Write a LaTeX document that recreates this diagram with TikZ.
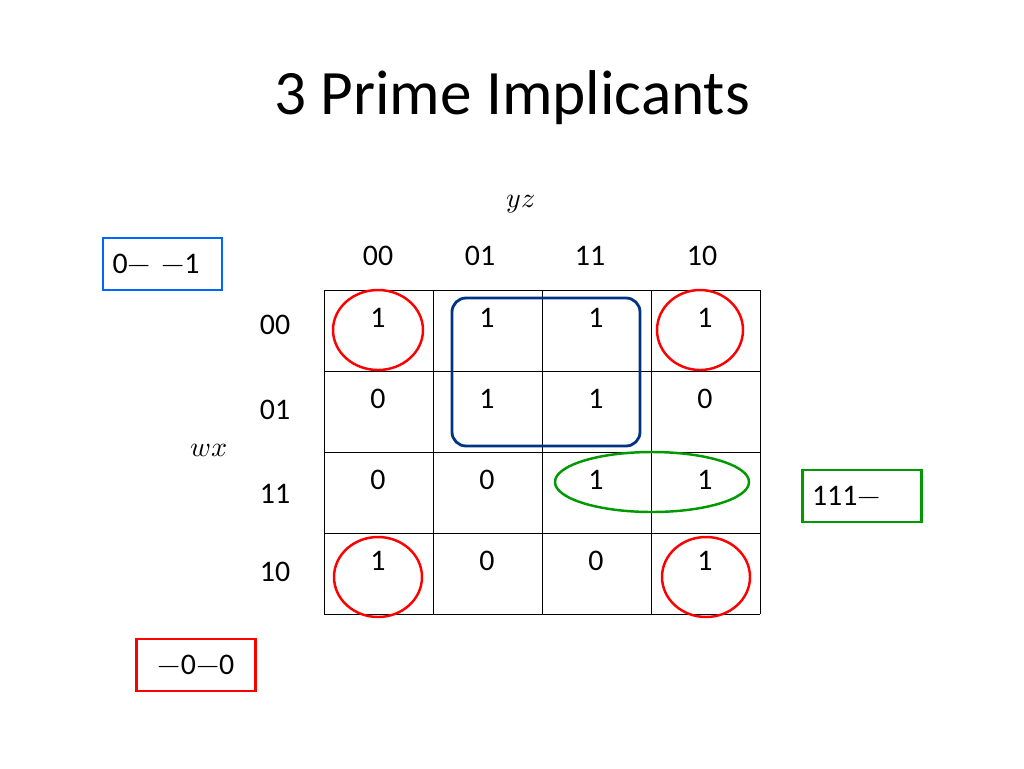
\documentclass[tikz,border=0pt]{standalone}
\usepackage{fontspec}
\setmainfont{Carlito}
\usepackage{unicode-math}
\begin{document}
\begin{tikzpicture}[x=0.02cm,y=-0.02cm, thick,
    cell/.style={font=\fontsize{17}{20}\selectfont},
    tag/.style={draw, line width=1.4pt, minimum width=119*0.02cm, minimum height=52*0.02cm, font=\fontsize{17}{20}\selectfont}]
  \useasboundingbox (0,0) rectangle (1024,768);
  \node (title) at (512,98) {\fontsize{36}{42}\selectfont 3 Prime Implicants};
  \node (yz) at (521,204) {\fontsize{16}{18}\selectfont $yz$};
  \node (wx) at (209,450) {\fontsize{16}{18}\selectfont $wx$};
  % grid
  \foreach \x in {324,433,542,651,760} \draw[thin] (\x,290) -- (\x,614);
  \foreach \y in {290,371,452,533,614} \draw[thin] (324,\y) -- (760,\y);
  % headers
  \node[cell] (c0) at (378,256) {00};
  \node[cell] (c1) at (480,256) {01};
  \node[cell] (c2) at (590,256) {11};
  \node[cell] (c3) at (702,256) {10};
  \node[cell] (r0) at (275,325) {00};
  \node[cell] (r1) at (275,410) {01};
  \node[cell] (r2) at (275,494) {11};
  \node[cell] (r3) at (275,572) {10};
  % values
  \foreach \a/\b/\c/\d [count=\j from 0] in {1/1/1/1, 0/1/1/0, 0/0/1/1, 1/0/0/1} {
    \node[cell] at (378,318+\j*81) {\a};
    \node[cell] at (487,318+\j*81) {\b};
    \node[cell] at (596,318+\j*81) {\c};
    \node[cell] at (705,318+\j*81) {\d};
  }
  % groups
  \draw[red, line width=1.4pt] (378,330) ellipse[x radius=45, y radius=40];
  \draw[red, line width=1.4pt] (700,330) ellipse[x radius=43, y radius=40];
  \draw[red, line width=1.4pt] (378,577) ellipse[x radius=44, y radius=40];
  \draw[red, line width=1.4pt] (706,577) ellipse[x radius=44, y radius=40];
  \draw[blue!40!black!80!cyan, line width=1.6pt, rounded corners=14*0.02cm] (452,298) rectangle (640,446);
  \draw[green!60!black, line width=1.4pt] (652,482) ellipse[x radius=97, y radius=30];
  % implicants
  \node[tag, draw=blue!60!cyan, anchor=west, align=left, text width=100*0.02cm] (pb) at (102,264) {0$-$ $-$1};
  \node[tag, draw=green!60!black, align=left, text width=100*0.02cm] (pg) at (862,496) {111$-$};
  \node[tag, draw=red] (pr) at (196,665) {$-$0$-$0};
\end{tikzpicture}
\end{document}
